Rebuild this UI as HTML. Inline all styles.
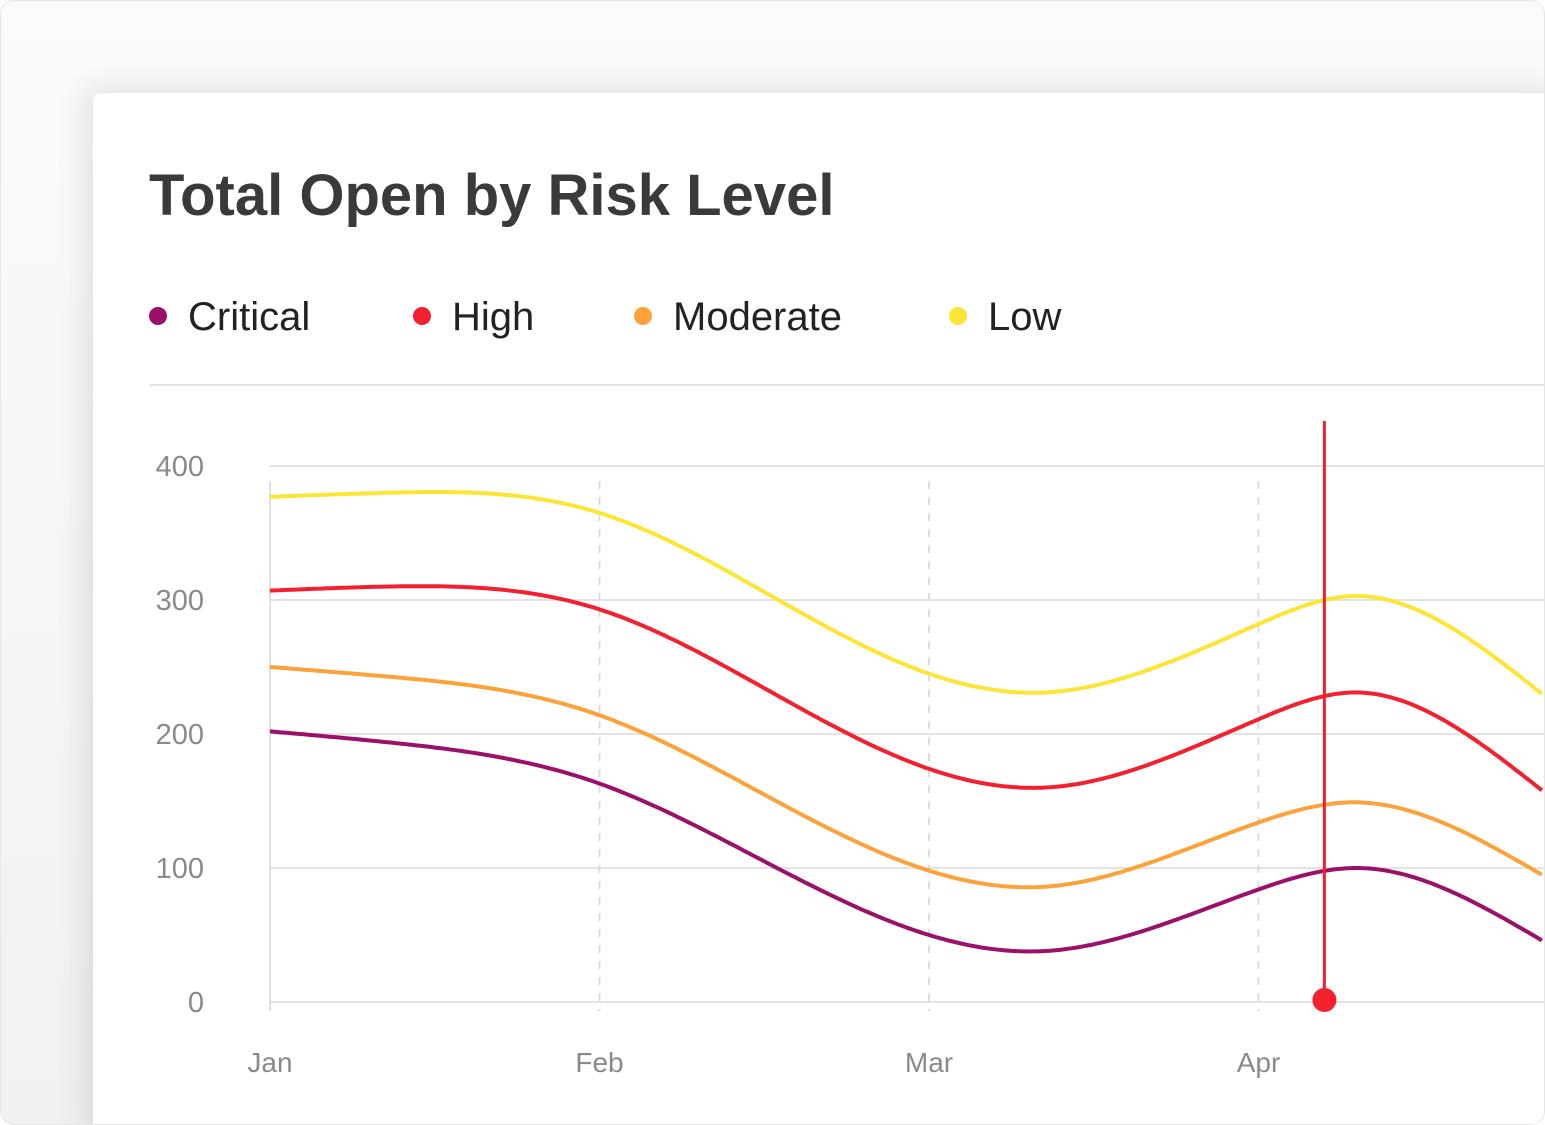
<!DOCTYPE html>
<html><head><meta charset="utf-8"><style>
html,body{margin:0;padding:0;width:1545px;height:1125px;overflow:hidden;background:#fff;font-family:"Liberation Sans",sans-serif}
#outer{position:absolute;left:0;top:0;width:1543px;height:1123px;border:1px solid #e6e6e6;border-radius:14px;background:linear-gradient(180deg,#fbfbfb 0%,#f1f1f1 100%);overflow:hidden}
#card{position:absolute;left:92px;top:92px;width:1470px;height:1050px;background:#fff;border-radius:8px;box-shadow:-8px -6px 30px rgba(0,0,0,0.10)}
</style></head><body>
<div id="outer">
<div id="card"></div>
<svg width="1545" height="1125" style="position:absolute;left:0;top:0">
<text x="148" y="214" font-size="58" font-weight="bold" fill="#3a3a3a">Total Open by Risk Level</text>
<g id="legend"></g>
<line x1="148" y1="384" x2="1545" y2="384" stroke="#e2e2e2" stroke-width="2"/>
<g id="grid"></g><g id="lines"></g><g id="marker"></g>
</svg>
</div>
<script>
const categories=["Jan","Feb","Mar","Apr"];
const yTicks=[0,100,200,300,400];
const xs=[0,0.35,1,2,2.35,3,3.3,3.86];
const seriesNames=["Critical","High","Moderate","Low"];
const colors=["#9b1068","#f3212f","#fba33a","#fde535"];
const critical=[202,194,163,50,38,84,100,46];
const high=[307,310,293,174,160,211,231,158];
const moderate=[250,243,214,98,86,134,149,95];
const low=[377,380,365,245,231,282,303,230];
const markerX=3.2;
const NS="http://www.w3.org/2000/svg";
const X=v=>269+v*329.5, Y=v=>1001-v*1.34;
function mk(tag,attrs,parent){const e=document.createElementNS(NS,tag);for(const k in attrs)e.setAttribute(k,attrs[k]);parent.appendChild(e);return e;}
const grid=document.getElementById('grid');
yTicks.forEach(t=>{
 const l=mk('line',{x1:269,x2:1545,y1:Y(t),y2:Y(t),stroke:'#e3e3e3','stroke-width':2},grid);
 
 
 const tx=mk('text',{x:203,y:Y(t)+10,'text-anchor':'end','font-size':29,fill:'#8a8a8a'},grid);tx.textContent=t;
 
 
});
categories.forEach((c,i)=>{
 const l=mk('line',{x1:X(i),x2:X(i),y1:480,y2:1010,stroke:i?'#dcdcdc':'#e0e0e0','stroke-width':2,'stroke-dasharray':i?'8,8':'none'},grid);
 
 
 const tx=mk('text',{x:X(i),y:1071,'text-anchor':'middle','font-size':28,fill:'#8a8a8a'},grid);tx.textContent=c;
 
 
});
function spline(x,y){
 const n=x.length,h=[],al=[0],l=[1],mu=[0],z=[0],c=new Array(n).fill(0),b=[],d=[];
 for(let i=0;i<n-1;i++)h.push(x[i+1]-x[i]);
 for(let i=1;i<n-1;i++)al[i]=3/h[i]*(y[i+1]-y[i])-3/h[i-1]*(y[i]-y[i-1]);
 for(let i=1;i<n-1;i++){l[i]=2*(x[i+1]-x[i-1])-h[i-1]*mu[i-1];mu[i]=h[i]/l[i];z[i]=(al[i]-h[i-1]*z[i-1])/l[i];}
 for(let j=n-2;j>=0;j--){c[j]=(z[j]||0)-(mu[j]||0)*c[j+1];b[j]=(y[j+1]-y[j])/h[j]-h[j]*(c[j+1]+2*c[j])/3;d[j]=(c[j+1]-c[j])/(3*h[j]);}
 return t=>{let j=0;while(j<n-2&&t>x[j+1])j++;const u=t-x[j];return y[j]+b[j]*u+c[j]*u*u+d[j]*u*u*u;};
}
function path(vals){
 const f=spline(xs,vals);let d='';
 const a=xs[0],e=xs[xs.length-1];
 for(let k=0;k<=300;k++){const t=a+(e-a)*k/300;d+=(k?'L':'M')+X(t).toFixed(1)+','+Y(f(t)).toFixed(1);}
 return d;
}
const lines=document.getElementById('lines');
[critical,high,moderate,low].forEach((s,i)=>{
 const e=mk('path',{d:path(s),fill:'none',stroke:colors[i],'stroke-width':4,'stroke-linejoin':'round'},lines);
 
 
});
const lg=document.getElementById('legend');
const lx=[157,421,642,957];
seriesNames.forEach((n,i)=>{
 const c=mk('circle',{cx:lx[i],cy:315,r:9,fill:colors[i]},lg);
 
 
 const t=mk('text',{x:lx[i]+30,y:329,'font-size':40,fill:'#222'},lg);t.textContent=n;
 
 
});
const m=document.getElementById('marker');
const ml=mk('line',{x1:X(markerX),x2:X(markerX),y1:420,y2:999,stroke:'#f3212f','stroke-width':3},m);


const md=mk('circle',{cx:X(markerX),cy:999,r:12,fill:'#f3212f'},m);


</script>
</body></html>
